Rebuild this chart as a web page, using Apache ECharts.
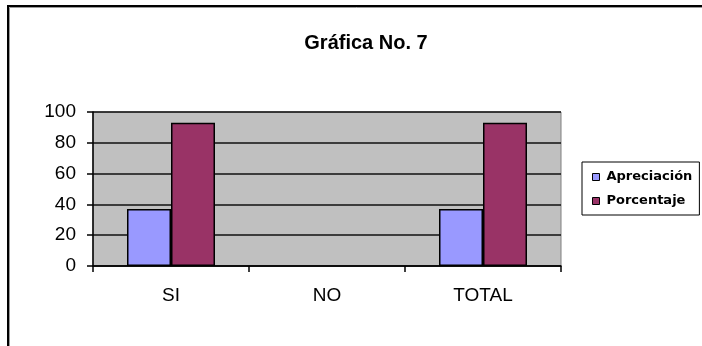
<!DOCTYPE html>
<html>
<head>
<meta charset="utf-8">
<style>
  html, body { margin: 0; padding: 0; background: #fff; }
  #chart { width: 702px; height: 346px; }
</style>
<script src="https://cdn.jsdelivr.net/npm/echarts@6/dist/echarts.min.js"></script>
</head>
<body>
<div id="chart"></div>
<script>
// Categories and series values
const categories = ['SI', 'NO', 'TOTAL'];
const apreciacion = [37, null, 37];
const porcentaje = [93, null, 93];
const yTicks = { min: 0, max: 100, interval: 20 };

const chart = echarts.init(document.getElementById('chart'), null, { renderer: 'canvas' });

const axisFont = { fontFamily: 'Liberation Sans, Arial, sans-serif', fontSize: 19, color: '#000' };

chart.setOption({
  animation: false,
  backgroundColor: '#fff',
  title: {
    text: 'Gráfica No. 7',
    left: 361,
    textAlign: 'center',
    top: 28,
    textStyle: { fontFamily: 'Liberation Sans, Arial, sans-serif', fontSize: 20, fontWeight: 'bold', color: '#000' }
  },
  legend: {
    orient: 'vertical',
    left: 582,
    top: 162,
    padding: [8, 7, 7, 10],
    itemGap: 10,
    itemWidth: 7,
    itemHeight: 7,
    icon: 'rect',
    borderColor: '#000',
    borderWidth: 1,
    backgroundColor: '#fff',
    itemStyle: { borderColor: '#000', borderWidth: 1 },
    textStyle: { fontFamily: 'DejaVu Sans, sans-serif', fontSize: 13, fontWeight: 'bold', color: '#000', lineHeight: 14, padding: [0, 0, 0, 2] },
    data: ['Apreciación', 'Porcentaje']
  },
  grid: {
    left: 93,
    right: 141,
    top: 112,
    bottom: 80,
    show: true,
    backgroundColor: '#C0C0C0',
    borderColor: '#808080',
    borderWidth: 1
  },
  xAxis: {
    type: 'category',
    data: categories,
    boundaryGap: true,
    axisLine: { lineStyle: { color: '#000', width: 1.5 } },
    axisTick: { show: true, length: 6, lineStyle: { color: '#000', width: 1.5 } },
    axisLabel: Object.assign({ margin: 20 }, axisFont),
    splitLine: { show: false }
  },
  yAxis: {
    type: 'value',
    min: yTicks.min,
    max: yTicks.max,
    interval: yTicks.interval,
    axisLine: { show: true, lineStyle: { color: '#000', width: 1.5 } },
    axisTick: { show: true, length: 6, lineStyle: { color: '#000', width: 1.5 } },
    axisLabel: Object.assign({ margin: 17 }, axisFont),
    splitLine: { show: true, lineStyle: { color: '#111', width: 1.6 } }
  },
  series: [
    {
      name: 'Apreciación',
      type: 'bar',
      data: apreciacion,
      barWidth: 44,
      barGap: '0%',
      itemStyle: { color: '#9999FF', borderColor: '#000', borderWidth: 1.5 }
    },
    {
      name: 'Porcentaje',
      type: 'bar',
      data: porcentaje,
      barWidth: 44,
      barGap: '0%',
      itemStyle: { color: '#993366', borderColor: '#000', borderWidth: 1.5 }
    }
  ],
  graphic: [
    // outer chart-area frame running off the right and bottom edges
    {
      type: 'rect',
      silent: true,
      shape: { x: 8, y: 6, width: 900, height: 600 },
      style: { fill: null, stroke: '#000', lineWidth: 2 }
    },
    {
      type: 'polyline',
      silent: true,
      shape: { points: [[9.5, 400], [9.5, 7.5], [900, 7.5]] },
      style: { fill: null, stroke: '#9a9a9a', lineWidth: 1 }
    }
  ]
});
</script>
</body>
</html>
